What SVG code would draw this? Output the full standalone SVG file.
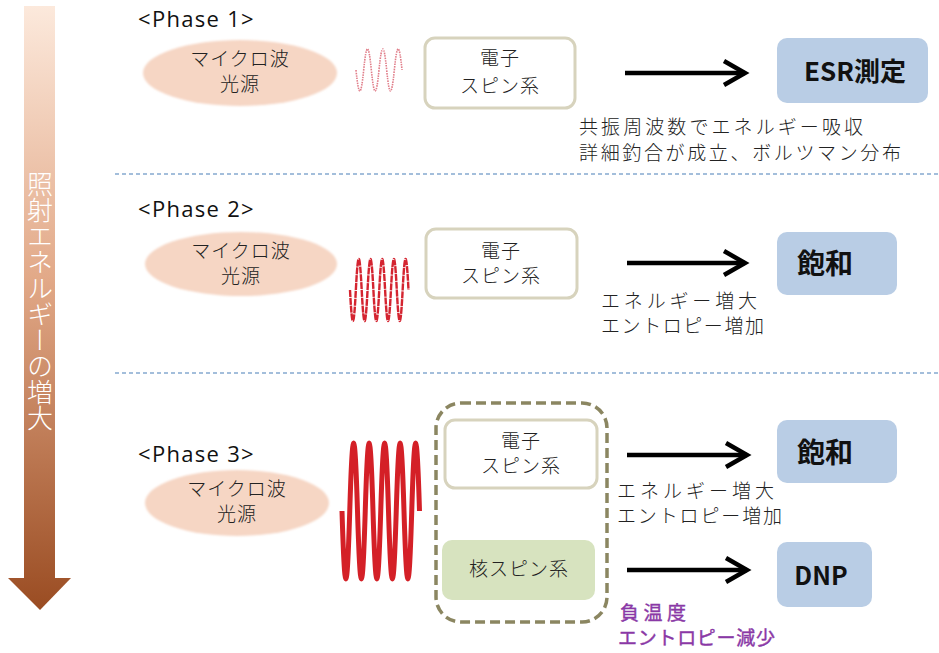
<svg xmlns="http://www.w3.org/2000/svg" width="939" height="653" viewBox="0 0 939 653">
<defs>
<linearGradient id="gArrow" gradientUnits="userSpaceOnUse" x1="0" y1="6" x2="0" y2="610">
<stop offset="0" stop-color="#fce9dc"/>
<stop offset="0.45" stop-color="#e2a988"/>
<stop offset="1" stop-color="#9a4c22"/>
</linearGradient>
<marker id="chev" markerUnits="userSpaceOnUse" markerWidth="30" markerHeight="34" refX="24" refY="15" orient="auto">
<path d="M3,3 L24,15 L3,27" fill="none" stroke="#000" stroke-width="4.5" stroke-linejoin="miter"/>
</marker>
<filter id="soft" x="-10%" y="-20%" width="120%" height="140%"><feGaussianBlur stdDeviation="1"/></filter>
</defs>
<style>
.t{font-family:"Noto Sans CJK JP","Noto Sans",sans-serif;fill:#222;font-size:19px;font-weight:300;}
.c{text-anchor:middle;}
.ph{font-family:"Open Sans","Noto Sans",sans-serif;font-size:22px;fill:#111;letter-spacing:1.3px;}
.src{fill:#f6d6c4;filter:url(#soft);}
.esp{fill:#fff;stroke:#d7d3bd;stroke-width:3;}
.res{fill:#b9cde5;}
.rt{font-family:"Noto Sans CJK JP","Noto Sans",sans-serif;font-weight:bold;fill:#111;text-anchor:middle;}
.arr{stroke:#000;stroke-width:4.5;fill:none;marker-end:url(#chev);}
.div{stroke:#85a9cf;stroke-width:1.5;stroke-dasharray:4 3;}
.note{font-family:"Noto Sans CJK JP","Noto Sans",sans-serif;font-size:19px;fill:#222;font-weight:300;}
.pur{font-family:"Noto Sans CJK JP","Noto Sans",sans-serif;font-size:19px;fill:#8a38a6;stroke:#8a38a6;stroke-width:0.4;}
</style>

<g id="energy-arrow">
<rect x="24" y="6" width="31" height="573" fill="url(#gArrow)"/>
<polygon points="8,578 71,578 40,610" fill="url(#gArrow)"/>
<text x="40" y="301" style="writing-mode:vertical-rl;font-family:'Noto Sans CJK JP',sans-serif;font-size:26px;fill:#fff;text-anchor:middle;font-weight:300;">照射エネルギーの増大</text>
</g>

<g id="dividers">
<line class="div" x1="115" y1="174" x2="939" y2="174"/>
<line class="div" x1="115" y1="373" x2="939" y2="373"/>
</g>

<!-- Phase 1 -->
<g id="phase1-label"><text class="ph" x="138" y="27">&lt;Phase 1&gt;</text></g>
<g id="p1-source">
<ellipse class="src" cx="240" cy="73" rx="97" ry="33"/>
<text class="t c" x="240" y="66" letter-spacing="1">マイクロ波</text>
<text class="t c" x="240" y="91" letter-spacing="1">光源</text>
</g>
<g id="p1-wave">
<path d="M356,70 C358.76,98 360.91,98 363.67,70 S368.57,42 371.33,70 S376.24,98 379,70 S383.91,42 386.67,70 S391.57,98 394.33,70 S399.24,42 402,70" fill="none" stroke="#e07c88" stroke-width="1.6" stroke-dasharray="1.5 1"/>
</g>
<g id="p1-electron">
<rect class="esp" x="425" y="38" width="150" height="70" rx="10"/>
<text class="t c" x="500" y="65" letter-spacing="1">電子</text>
<text class="t c" x="500" y="93" letter-spacing="1">スピン系</text>
</g>
<g id="p1-esr">
<rect class="res" x="777" y="38" width="151" height="65" rx="10"/>
<text class="rt" x="855" y="81" font-size="26">ESR測定</text>
</g>
<g id="p1-note">
<text class="note" x="579" y="134" textLength="284" lengthAdjust="spacing">共振周波数でエネルギー吸収</text>
<text class="note" x="579" y="160" textLength="322" lengthAdjust="spacing">詳細釣合が成立、ボルツマン分布</text>
</g>

<!-- Phase 2 -->
<g id="phase2-label"><text class="ph" x="138" y="217">&lt;Phase 2&gt;</text></g>
<g id="p2-source">
<ellipse class="src" cx="241" cy="264" rx="96" ry="32"/>
<text class="t c" x="241" y="258" letter-spacing="1">マイクロ波</text>
<text class="t c" x="241" y="283" letter-spacing="1">光源</text>
</g>
<g id="p2-wave">
<path d="M350,290 C352.11,331.3 353.74,331.3 355.85,290 S359.59,248.7 361.7,290 S365.44,331.3 367.55,290 S371.29,248.7 373.4,290 S377.14,331.3 379.25,290 S382.99,248.7 385.1,290 S388.84,331.3 390.95,290 S394.69,248.7 396.8,290 S400.54,331.3 402.65,290 S406.39,248.7 408.5,290" fill="none" stroke="#d42430" stroke-width="2.4" stroke-dasharray="7 0.8"/>
</g>
<g id="p2-electron">
<rect class="esp" x="426" y="229" width="151" height="69" rx="10"/>
<text class="t c" x="501" y="258" letter-spacing="1">電子</text>
<text class="t c" x="501" y="283" letter-spacing="1">スピン系</text>
</g>
<g id="p2-sat">
<rect class="res" x="777" y="232" width="120" height="63" rx="10"/>
<text class="rt" x="825" y="274" font-size="28">飽和</text>
</g>
<g id="p2-note">
<text class="note" x="601" y="308" textLength="156" lengthAdjust="spacing">エネルギー増大</text>
<text class="note" x="601" y="333" textLength="163" lengthAdjust="spacing">エントロピー増加</text>
</g>

<!-- Phase 3 -->
<g id="phase3-label"><text class="ph" x="138" y="462">&lt;Phase 3&gt;</text></g>
<g id="p3-source">
<ellipse class="src" cx="237" cy="503" rx="92" ry="33"/>
<text class="t c" x="237" y="496" letter-spacing="1">マイクロ波</text>
<text class="t c" x="237" y="521" letter-spacing="1">光源</text>
</g>
<g id="p3-wave">
<path d="M342,511 C344.79,601.7 346.96,601.7 349.75,511 S354.71,420.3 357.5,511 S362.46,601.7 365.25,511 S370.21,420.3 373,511 S377.96,601.7 380.75,511 S385.71,420.3 388.5,511 S393.46,601.7 396.25,511 S401.21,420.3 404,511 S408.96,601.7 411.75,511 S416.71,420.3 419.5,511" fill="none" stroke="#d42027" stroke-width="5"/>
</g>
<g id="p3-system">
<rect x="436" y="403" width="171" height="219" rx="25" fill="none" stroke="#8b8661" stroke-width="3.5" stroke-dasharray="10 5"/>
</g>
<g id="p3-electron">
<rect class="esp" x="445" y="420" width="152" height="68" rx="10"/>
<text class="t c" x="521" y="448" letter-spacing="1">電子</text>
<text class="t c" x="521" y="473" letter-spacing="1">スピン系</text>
</g>
<g id="p3-nucleus">
<rect x="442" y="540" width="153" height="60" rx="10" fill="#d7e3bf"/>
<text class="t c" x="519" y="576" letter-spacing="1">核スピン系</text>
</g>
<g id="p3-sat">
<rect class="res" x="777" y="420" width="120" height="63" rx="10"/>
<text class="rt" x="825" y="463" font-size="28">飽和</text>
</g>
<g id="p3-dnp">
<rect class="res" x="777" y="542" width="95" height="65" rx="10"/>
<text class="rt" x="821" y="585" font-size="25">DNP</text>
</g>
<g id="p3-note">
<text class="note" x="617" y="498" textLength="157" lengthAdjust="spacing">エネルギー増大</text>
<text class="note" x="617" y="523" textLength="165" lengthAdjust="spacing">エントロピー増加</text>
<text class="pur" x="620" y="620" textLength="66" lengthAdjust="spacing">負温度</text>
<text class="pur" x="618" y="645" textLength="157" lengthAdjust="spacing">エントロピー減少</text>
</g>

<g id="connectors">
<line class="arr" x1="625" y1="73" x2="745" y2="73"/>
<line class="arr" x1="627" y1="263" x2="745" y2="263"/>
<line class="arr" x1="627" y1="455" x2="747" y2="455"/>
<line class="arr" x1="627" y1="570" x2="747" y2="570"/>
</g>
</svg>
